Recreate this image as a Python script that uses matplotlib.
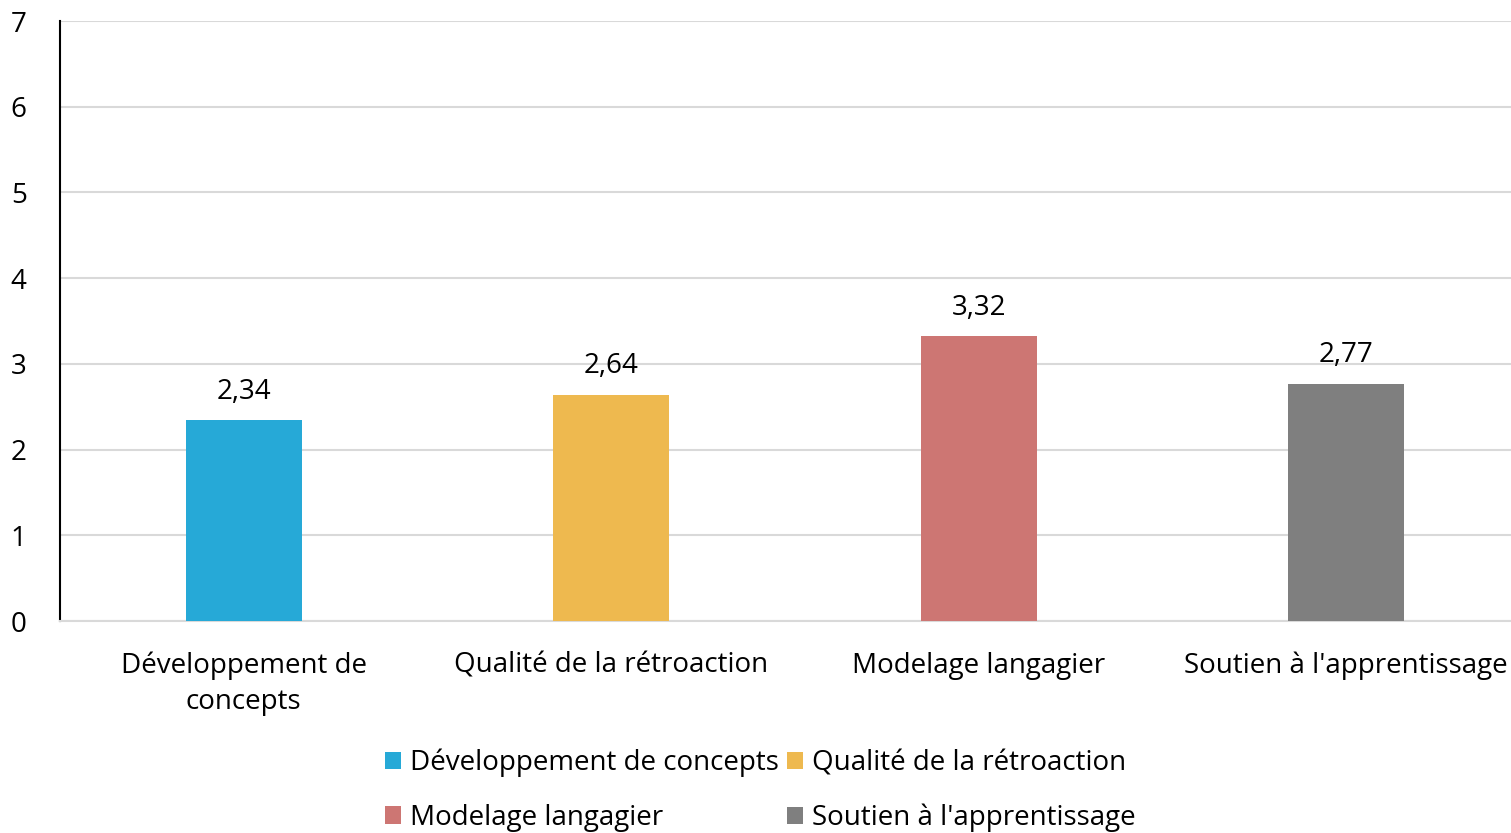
import matplotlib.pyplot as plt
from matplotlib.patches import Patch

categories = ["Développement de\nconcepts", "Qualité de la rétroaction",
              "Modelage langagier", "Soutien à l'apprentissage"]
legend_labels = ["Développement de concepts", "Qualité de la rétroaction",
                 "Modelage langagier", "Soutien à l'apprentissage"]
values = [2.34, 2.64, 3.32, 2.77]
colors = ["#26A9D7", "#EEB94F", "#CD7673", "#7F7F7F"]

plt.rcParams['font.family'] = ['Open Sans', 'DejaVu Sans']

fig = plt.figure(figsize=(15.11, 8.33), dpi=100)
ax = fig.add_axes([60 / 1511, 212 / 833, 1470 / 1511, 600 / 833])

x = list(range(len(values)))
bars = ax.bar(x, values, width=0.315, color=colors, zorder=3)
for xi, v in zip(x, values):
    ax.text(xi, v + 0.17, f"{v:.2f}".replace('.', ','), ha='center', va='bottom',
            fontsize=20)

ax.set_xlim(-0.5, 3.5)
ax.set_ylim(0, 7)
ax.set_yticks(range(8))
ax.set_xticks(x)
ax.set_xticklabels(categories, fontsize=20, linespacing=1.4)
ax.tick_params(axis='y', length=0, labelsize=20, pad=24)
ax.tick_params(axis='x', length=0, pad=22)
ax.grid(axis='y', color='#D9D9D9', linewidth=1.5, zorder=0)
for s in ['top', 'right']:
    ax.spines[s].set_visible(False)
ax.spines['left'].set_color('black')
ax.spines['left'].set_linewidth(1.5)
ax.spines['bottom'].set_color('#D9D9D9')
ax.spines['bottom'].set_linewidth(1.5)

# legend is filled row by row in the reference
order = [0, 2, 1, 3]
handles = [Patch(facecolor=colors[i], label=legend_labels[i]) for i in order]
fig.legend(handles=handles, ncol=2, loc='lower center', bbox_to_anchor=(0.503, -0.029),
           frameon=False, fontsize=20, handlelength=0.6, handleheight=0.6,
           handletextpad=0.3, columnspacing=0.3, labelspacing=0.95)

fig.savefig('out.png', dpi=100)
